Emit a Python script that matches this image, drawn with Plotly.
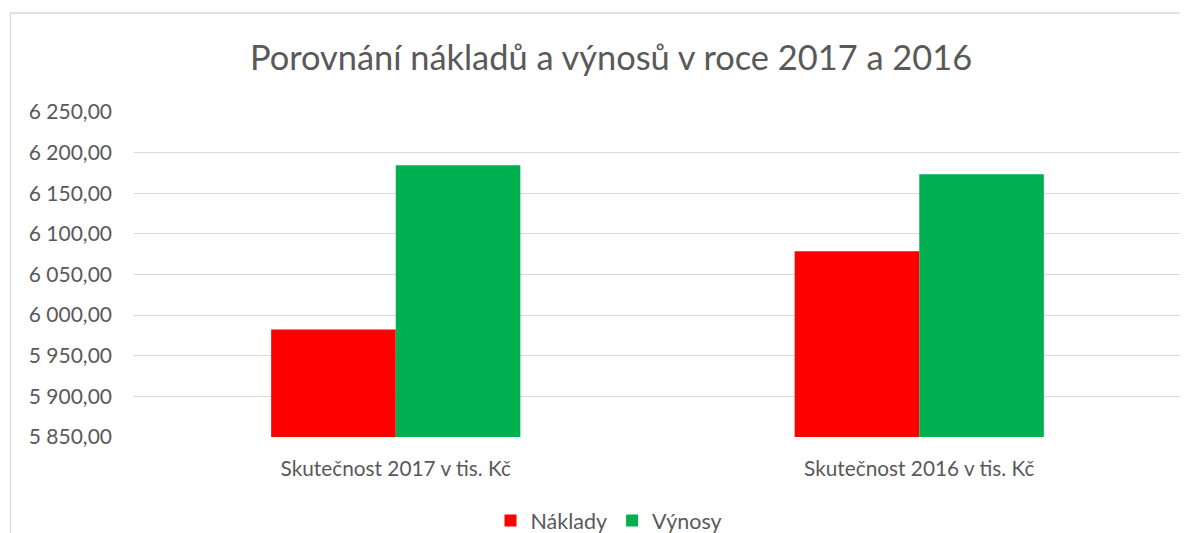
import plotly.graph_objects as go

categories = ["Skutečnost 2017 v tis. Kč", "Skutečnost 2016 v tis. Kč"]
naklady = [5982.4, 6078.6]
vynosy = [6184.6, 6173.5]
series_names = ["Náklady", "Výnosy"]
title_text = "Porovnání nákladů a výnosů v roce 2017 a 2016"

OFF = 8  # default body margin of the html page
W, H = 1188 - OFF, 533 - OFF
# plot area in page pixels
PL, PR, PT, PB = 134, 1181, 112.3, 436.7
L, R, T, B = PL - OFF, W - (PR - OFF), PT - OFF, H - (PB - OFF)
FONT = "Lato"
TXT = "#595959"

fig = go.Figure()
fig.add_trace(go.Bar(name=series_names[0], x=categories, y=naklady,
                     marker=dict(color="#FF0000", line=dict(width=0))))
fig.add_trace(go.Bar(name=series_names[1], x=categories, y=vynosy,
                     marker=dict(color="#00B050", line=dict(width=0))))

def px_x(x):  # page px -> paper fraction
    return (x - PL) / (PR - PL)
def px_y(y):
    return (PB - y) / (PB - PT)

fig.update_layout(
    width=W, height=H,
    margin=dict(l=L, r=R, t=T, b=B, pad=0, autoexpand=False),
    paper_bgcolor="white", plot_bgcolor="white",
    separators=", ",
    barmode="group", bargap=0.524, bargroupgap=0,
    font=dict(family=FONT, color=TXT),
    title=dict(text=title_text, x=(611 - OFF) / W, xanchor="center", xref="container",
               y=1 - (58 - OFF) / H, yanchor="middle", yref="container",
               font=dict(family=FONT, size=34.4, color=TXT)),
    legend=dict(orientation="h", x=px_x(609), xanchor="center",
                y=px_y(520), yanchor="middle",
                font=dict(family=FONT, size=21.5, color=TXT),
                itemwidth=30, tracegroupgap=0),
    showlegend=True,
    xaxis=dict(showgrid=False, showline=False, zeroline=False, ticks="",
               tickfont=dict(family=FONT, size=20.8, color=TXT),
               ticklabelstandoff=17),
    yaxis=dict(range=[5850, 6250], dtick=50, tick0=5850, tickformat=",.2f",
               showgrid=True, gridcolor="#D9D9D9", gridwidth=1.3,
               zeroline=False, showline=False, ticks="",
               tickfont=dict(family=FONT, size=21, color=TXT),
               ticklabelstandoff=21),
    shapes=[dict(type="rect", xref="paper", yref="paper",
                 x0=px_x(10.5), x1=px_x(1230), y0=px_y(560), y1=px_y(13.5),
                 line=dict(color="#D9D9D9", width=1.3), fillcolor="rgba(0,0,0,0)",
                 layer="below")],
)

fig.write_html("out.html")
